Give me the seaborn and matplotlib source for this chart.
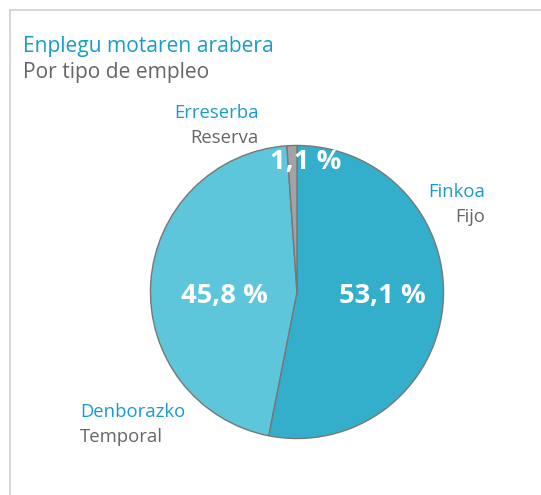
import matplotlib
matplotlib.use("Agg")
import matplotlib.pyplot as plt
import seaborn as sns
import numpy as np

# Data
categories_eu = ["Finkoa", "Denborazko", "Erreserba"]
categories_es = ["Fijo", "Temporal", "Reserva"]
values = [53.1, 45.8, 1.1]
value_labels = ["53,1 %", "45,8 %", "1,1 %"]
title = "Enplegu motaren arabera"
subtitle = "Por tipo de empleo"

sns.set_theme(style="white")
plt.rcParams['font.family'] = ['Open Sans', 'DejaVu Sans']

colors = ["#33AFCB", "#5EC6DB", "#A3A3A6"]
blue = "#1A9BD0"
grey = "#666666"

W, H = 541, 495
fig = plt.figure(figsize=(W / 100, H / 100), dpi=100)
fig.patch.set_facecolor("white")

# frame lines (top and left)
fig.add_artist(plt.Line2D([10 / W, 1], [1 - 10 / H, 1 - 10 / H], color="#D0D0D0", lw=1.2, transform=fig.transFigure))
fig.add_artist(plt.Line2D([10 / W, 10 / W], [0, 1 - 10 / H], color="#D0D0D0", lw=1.2, transform=fig.transFigure))

cx, cy, r = 297, 292, 148
ax = fig.add_axes([(cx - r) / W, (H - cy - r) / H, 2 * r / W, 2 * r / H])
wedges, _ = ax.pie(values, colors=colors, startangle=90, counterclock=False,
                   wedgeprops=dict(edgecolor="#777777", linewidth=1.0))
ax.set_xlim(-1.01, 1.01)
ax.set_ylim(-1.01, 1.01)
ax.set_aspect("equal")
ax.axis("off")

# value labels
pos = [(0.58, -0.025), (-0.495, -0.025), (0.06, 0.89)]
for (x, y), lab in zip(pos, value_labels):
    ax.text(x, y, lab, ha="center", va="center", color="white", fontsize=19.7,
            fontweight="bold", family=['Open Sans', 'DejaVu Sans'])

# title
fig.text(23 / W, 1 - 52 / H, title, color=blue, fontsize=15.1, ha="left", va="baseline")
fig.text(23 / W, 1 - 78 / H, subtitle, color=grey, fontsize=15.1, ha="left", va="baseline")

# category labels
fs = 13.3
fig.text(259 / W, 1 - 118 / H, categories_eu[2], color=blue, fontsize=fs, ha="right", va="baseline")
fig.text(259 / W, 1 - 143 / H, categories_es[2], color=grey, fontsize=fs, ha="right", va="baseline")
fig.text(485 / W, 1 - 197 / H, categories_eu[0], color=blue, fontsize=fs, ha="right", va="baseline")
fig.text(485 / W, 1 - 222 / H, categories_es[0], color=grey, fontsize=fs, ha="right", va="baseline")
fig.text(80 / W, 1 - 417 / H, categories_eu[1], color=blue, fontsize=fs, ha="left", va="baseline")
fig.text(80 / W, 1 - 442 / H, categories_es[1], color=grey, fontsize=fs, ha="left", va="baseline")

fig.savefig("out.png", dpi=100)
